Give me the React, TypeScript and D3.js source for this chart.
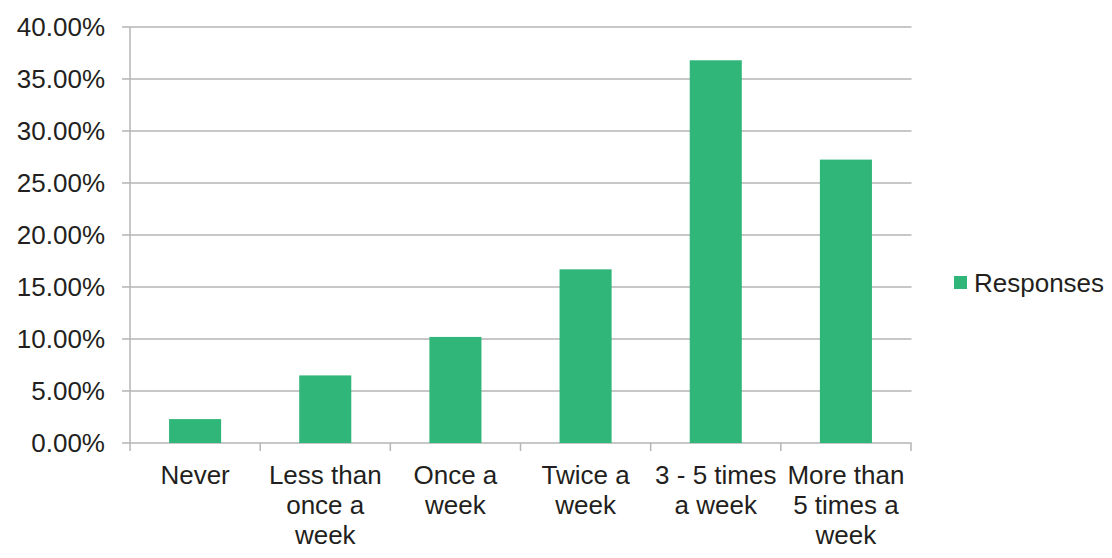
import { useEffect, useRef } from "react";
import * as d3 from "d3";

const categories = [
  "Never",
  "Less than\nonce a\nweek",
  "Once a\nweek",
  "Twice a\nweek",
  "3 - 5 times\na week",
  "More than\n5 times a\nweek",
];
const responses = [2.3, 6.5, 10.2, 16.7, 36.8, 27.25];
const yTicks = [0, 5, 10, 15, 20, 25, 30, 35, 40];
const seriesName = "Responses";

const App: React.FC = () => {
  const svgRef = useRef<SVGSVGElement | null>(null);

  useEffect(() => {
    if (!svgRef.current) return;
    const width = 1112;
    const height = 558;
    const margin = { top: 27, right: 201, bottom: 115, left: 130 };
    const font = "'Liberation Sans', Arial, sans-serif";
    const fontSize = 26;
    const textColor = "#231f20";
    const gridColor = "#b5b5b5";
    const barColor = "#31b67a";

    const svg = d3.select(svgRef.current);
    svg.selectAll("*").remove();

    const x = d3
      .scaleBand<string>()
      .domain(categories)
      .range([margin.left, width - margin.right])
      .paddingInner(0.6)
      .paddingOuter(0.3);

    const y = d3
      .scaleLinear()
      .domain([0, 40])
      .range([height - margin.bottom, margin.top]);

    // 網格線
    svg
      .append("g")
      .selectAll("line")
      .data(yTicks)
      .join("line")
      .attr("x1", margin.left - 8)
      .attr("x2", width - margin.right + 0.5)
      .attr("y1", (d) => y(d))
      .attr("y2", (d) => y(d))
      .attr("stroke", gridColor)
      .attr("stroke-width", 1.5);

    // y 軸
    svg
      .append("line")
      .attr("x1", margin.left)
      .attr("x2", margin.left)
      .attr("y1", margin.top)
      .attr("y2", y(0))
      .attr("stroke", gridColor)
      .attr("stroke-width", 1.5);

    svg
      .append("g")
      .selectAll("text")
      .data(yTicks)
      .join("text")
      .attr("x", 105)
      .attr("y", (d) => y(d))
      .attr("dy", "0.35em")
      .attr("text-anchor", "end")
      .attr("font-family", font)
      .attr("font-size", fontSize)
      .attr("fill", textColor)
      .text((d) => `${d.toFixed(2)}%`);

    // x 軸刻度
    const bounds = d3.range(categories.length + 1).map(
      (i) => margin.left + i * ((width - margin.right - margin.left) / categories.length)
    );
    svg
      .append("g")
      .selectAll("line")
      .data(bounds)
      .join("line")
      .attr("x1", (d) => d)
      .attr("x2", (d) => d)
      .attr("y1", y(0))
      .attr("y2", y(0) + 8)
      .attr("stroke", gridColor)
      .attr("stroke-width", 1.5);

    // 長條
    svg
      .append("g")
      .selectAll("rect")
      .data(categories)
      .join("rect")
      .attr("x", (d) => x(d) as number)
      .attr("width", x.bandwidth())
      .attr("y", (_, i) => y(responses[i]))
      .attr("height", (_, i) => y(0) - y(responses[i]))
      .attr("fill", barColor);

    // x 標籤
    const labels = svg
      .append("g")
      .selectAll("text")
      .data(categories)
      .join("text")
      .attr("text-anchor", "middle")
      .attr("font-family", font)
      .attr("font-size", fontSize)
      .attr("fill", textColor);
    labels
      .selectAll("tspan")
      .data((d) => d.split("\n").map((line) => ({ line, cat: d })))
      .join("tspan")
      .attr("x", (d) => (x(d.cat) as number) + x.bandwidth() / 2)
      .attr("y", (_, i) => 484 + i * 30)
      .text((d) => d.line);

    // 圖例
    const legend = svg.append("g");
    legend
      .append("rect")
      .attr("x", 954)
      .attr("y", 276)
      .attr("width", 13)
      .attr("height", 13)
      .attr("fill", barColor);
    legend
      .append("text")
      .attr("x", 974)
      .attr("y", 282.5)
      .attr("dy", "0.35em")
      .attr("font-family", font)
      .attr("font-size", fontSize)
      .attr("fill", textColor)
      .text(seriesName);
  }, []);

  return (
    <svg
      ref={svgRef}
      width={1112}
      height={558}
      style={{ position: "absolute", left: 0, top: 0, background: "#fff" }}
    ></svg>
  );
};

export default App;
